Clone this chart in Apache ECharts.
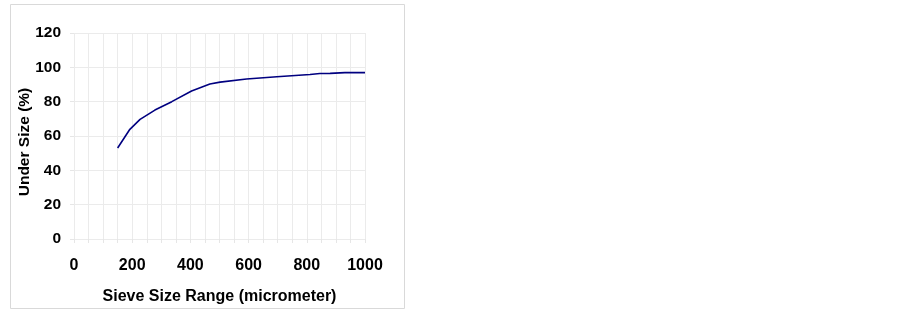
<!DOCTYPE html>
<html><head><meta charset="utf-8">
<script src="https://cdn.jsdelivr.net/npm/echarts@6/dist/echarts.min.js"></script>
<style>html,body{margin:0;padding:0;background:#fff}#c{width:902px;height:312px}</style>
</head><body><div id="c"></div>
<script>
const sieveSize = [150, 192, 227, 278, 336, 404, 467, 502, 593, 697, 811, 845, 880, 931, 1000];
const underSize = [53.0, 63.9, 69.7, 75.1, 80.0, 86.2, 90.3, 91.4, 93.2, 94.5, 95.8, 96.4, 96.5, 96.9, 96.9];
const xTitle = 'Sieve Size Range (micrometer)';
const yTitle = 'Under Size (%)';

const chart = echarts.init(document.getElementById('c'));
const font = 'Liberation Sans, Arial, sans-serif';
chart.setOption({
  animation: false,
  graphic: [
    {type:'rect', shape:{x:10.5,y:4.5,width:394,height:304}, style:{fill:'none', stroke:'#d9d9d9', lineWidth:1}},
    {type:'text', x:25, y:142, rotation:Math.PI/2,
     style:{text:yTitle, font:'bold 15.5px ' + font, fill:'#000', align:'center', verticalAlign:'middle'}}
  ],
  grid: {left:74, right:537, top:33, bottom:73},
  xAxis: {
    type:'value', min:0, max:1000, interval:50,
    name: xTitle, nameLocation:'middle', nameGap:50,
    nameTextStyle:{fontFamily:font, fontWeight:'bold', fontSize:16, color:'#000'},
    axisLine:{show:false},
    axisTick:{show:true, length:4, lineStyle:{color:'#e6e6e6'}},
    axisLabel:{fontFamily:font, fontWeight:'bold', fontSize:16, color:'#000', margin:19,
      formatter: v => (v % 200 === 0 ? String(v) : '')},
    splitLine:{show:true, lineStyle:{color:'#ebebeb', width:1}}
  },
  yAxis: {
    type:'value', min:0, max:120, interval:20,
    axisLine:{show:false},
    axisTick:{show:true, length:4, lineStyle:{color:'#e6e6e6'}},
    axisLabel:{fontFamily:font, fontWeight:'bold', fontSize:15.5, color:'#000', margin:13},
    splitLine:{show:true, lineStyle:{color:'#ebebeb', width:1}}
  },
  series: [{
    type:'line', data: sieveSize.map((x,i)=>[x, underSize[i]]),
    showSymbol:false, symbol:'none',
    lineStyle:{color:'#000080', width:1.6}
  }]
});
</script></body></html>
